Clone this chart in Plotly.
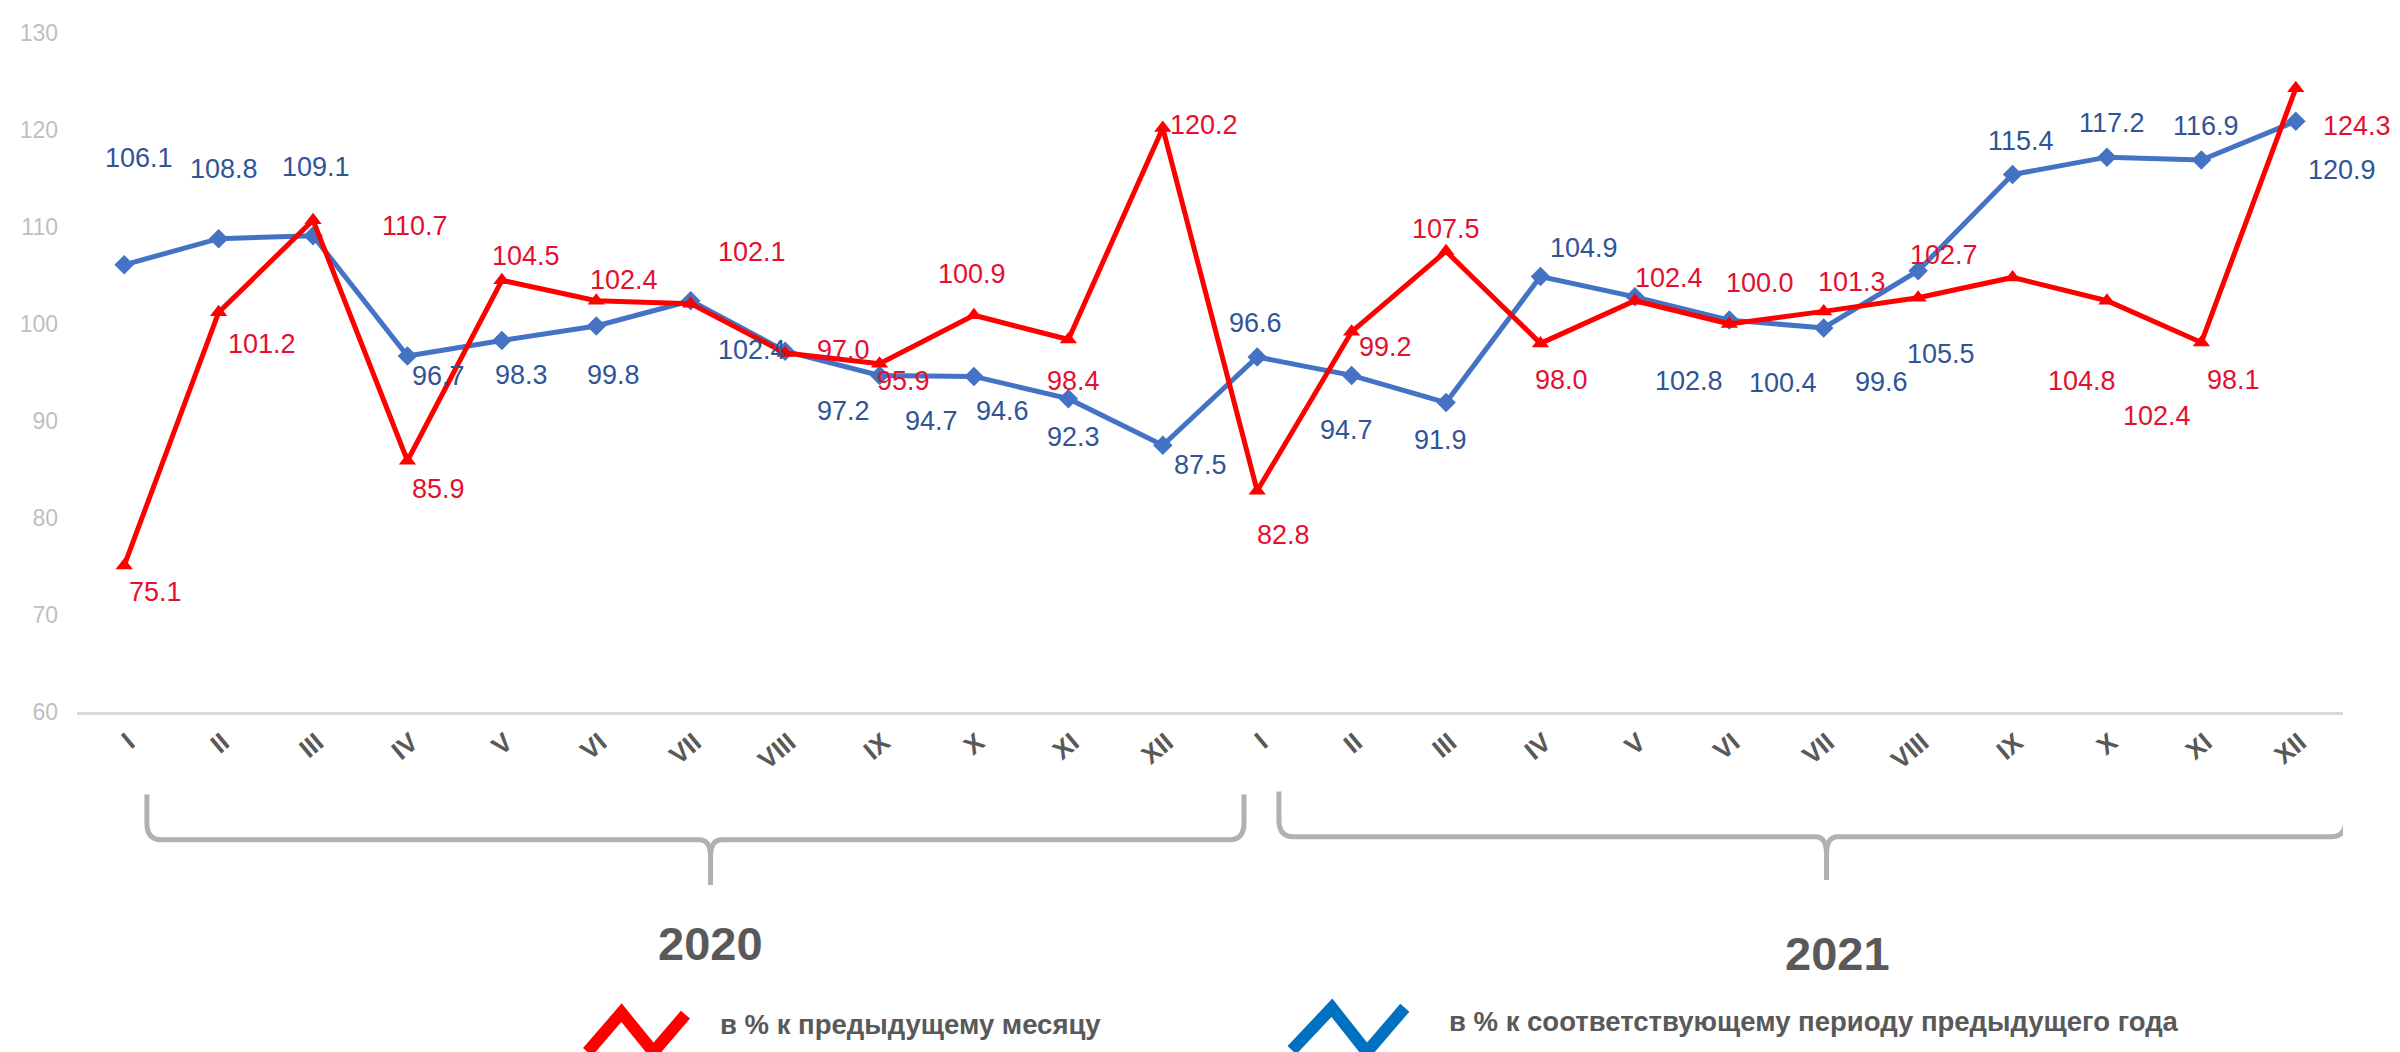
import plotly.graph_objects as go

# ---------------- data ----------------
months = ["I", "II", "III", "IV", "V", "VI", "VII", "VIII", "IX", "X", "XI", "XII"]
tick_labels = months + months
years = ["2020", "2021"]

prev_month = [75.1, 101.2, 110.7, 85.9, 104.5, 102.4, 102.1, 97.0, 95.9, 100.9, 98.4, 120.2,
              82.8, 99.2, 107.5, 98.0, 102.4, 100.0, 101.3, 102.7, 104.8, 102.4, 98.1, 124.3]
prev_year = [106.1, 108.8, 109.1, 96.7, 98.3, 99.8, 102.4, 97.2, 94.7, 94.6, 92.3, 87.5,
             96.6, 94.7, 91.9, 104.9, 102.8, 100.4, 99.6, 105.5, 115.4, 117.2, 116.9, 120.9]

legend_names = ["в % к предыдущему месяцу", "в % к соответствующему периоду предыдущего года"]

# label offsets (pixels) – styling only
red_off = [(31, -26), (43, -32), (102, -6), (31, -28), (24, 24), (28, 21), (61, 52), (58, 3),
           (24, -17), (-2, 41), (5, -41), (41, 3), (26, -44), (34, -15), (0, 22), (21, -37),
           (34, 23), (31, 41), (28, 29), (26, 43), (69, -104), (50, -115), (32, -38), (61, -38)]
blue_off = [(15, 107), (5, 70), (3, 69), (31, -20), (20, -35), (17, -49), (61, -49), (58, -60),
            (52, -46), (29, -35), (5, -38), (38, -20), (-2, 34), (-5, -55), (-6, -37), (44, 28),
            (54, -84), (54, -63), (58, -54), (23, -83), (8, 34), (5, 34), (5, 34), (46, -49)]

RED_LINE = "#ff0000"
RED_TXT = "#e3112f"
BLUE_LINE = "#4472c4"
BLUE_TXT = "#2f5597"
GREY_TXT = "#595959"
FONT = "Liberation Sans, Arial, sans-serif"

W, H = 2400, 1052
ML, MR, MT, MB = 67, 65, 13, 348
PW, PH = W - ML - MR, H - MT - MB
PB = H - MB

x = list(range(len(tick_labels)))

fig = go.Figure()
fig.add_trace(go.Scatter(
    x=x, y=prev_year, mode="lines+markers", name=legend_names[1],
    line=dict(color=BLUE_LINE, width=5),
    marker=dict(symbol="diamond", size=15, color=BLUE_LINE),
    hoverinfo="skip", cliponaxis=False))
fig.add_trace(go.Scatter(
    x=x, y=prev_month, mode="lines+markers", name=legend_names[0],
    line=dict(color=RED_LINE, width=5),
    marker=dict(symbol="triangle-up", size=15, color=RED_LINE),
    hoverinfo="skip", cliponaxis=False))

annotations = []
for xi, v, (dx, dy) in zip(x, prev_month, red_off):
    annotations.append(dict(x=xi, y=v, xref="x", yref="y", text=f"{v:.1f}", showarrow=False,
                            xshift=dx, yshift=dy, xanchor="center", yanchor="middle",
                            font=dict(family=FONT, size=27, color=RED_TXT)))
for xi, v, (dx, dy) in zip(x, prev_year, blue_off):
    annotations.append(dict(x=xi, y=v, xref="x", yref="y", text=f"{v:.1f}", showarrow=False,
                            xshift=dx, yshift=dy, xanchor="center", yanchor="middle",
                            font=dict(family=FONT, size=27, color=BLUE_TXT)))


def px2paper(px, py):
    return ((px - ML) / PW, (PB - py) / PH)


def py2paper(py):
    return (PB - py) / PH


# year labels
year_pos = [(6.21, 940), (18.15, 950)]
for yr, (xd, py) in zip(years, year_pos):
    annotations.append(dict(x=xd, y=py2paper(py), xref="x", yref="paper", text=f"<b>{yr}</b>",
                            showarrow=False, xanchor="center", yanchor="middle",
                            font=dict(family=FONT, size=47, color=GREY_TXT)))

# legend texts
for name, (px, py) in zip(legend_names, [(709, 1022), (1438, 1019)]):
    lx, ly = px2paper(px, py)
    annotations.append(dict(x=lx, y=ly, xref="paper", yref="paper",
                            text=f"<b>{name}</b>", showarrow=False, xanchor="left",
                            yanchor="middle", font=dict(family=FONT, size=27.5, color=GREY_TXT)))

shapes = []


def brace(x0, x1, xc, ytop, yh, ytip, rx=0.15, ry=0.025, cx=0.12):
    return (f"M {x0},{ytop} L {x0},{yh + ry} Q {x0},{yh} {x0 + rx},{yh} "
            f"L {xc - cx},{yh} Q {xc},{yh} {xc},{yh - ry} L {xc},{ytip} "
            f"L {xc},{yh - ry} Q {xc},{yh} {xc + cx},{yh} "
            f"L {x1 - rx},{yh} Q {x1},{yh} {x1},{yh + ry} L {x1},{ytop}")


for (x0, x1, xc, ytop, yh, ytip) in [(0.24, 11.86, 6.21, 788, 834, 880),
                                      (12.23, 23.53, 18.03, 785, 831, 875)]:
    shapes.append(dict(type="path", xref="x", yref="paper",
                       path=brace(x0, x1, xc, py2paper(ytop), py2paper(yh), py2paper(ytip)),
                       line=dict(color="#b4b0b0", width=5)))


def zig(points):
    pts = [px2paper(a, b) for a, b in points]
    return "M " + " L ".join(f"{a},{b}" for a, b in pts)


shapes.append(dict(type="path", xref="paper", yref="paper",
                   path=zig([(578, 1050), (612, 1010), (644, 1050), (676, 1012)]),
                   line=dict(color=RED_LINE, width=12)))
shapes.append(dict(type="path", xref="paper", yref="paper",
                   path=zig([(1283, 1048), (1323, 1005), (1358, 1050), (1396, 1005)]),
                   line=dict(color="#0070c0", width=12)))
# thin golden line at right edge
gx0, gy0 = px2paper(2397, 918)
gx1, gy1 = px2paper(2397, 1040)
shapes.append(dict(type="line", xref="paper", yref="paper", x0=gx0, x1=gx1, y0=gy0, y1=gy1,
                   line=dict(color="#e2b85e", width=2)))

fig.update_layout(
    width=W, height=H,
    margin=dict(l=ML, r=MR, t=MT, b=MB),
    paper_bgcolor="white", plot_bgcolor="white",
    showlegend=False,
    annotations=annotations, shapes=shapes,
    xaxis=dict(range=[-0.5, 23.5], tickmode="array", tickvals=x,
               ticktext=[f"<b>{t}</b>" for t in tick_labels], tickangle=-40,
               tickfont=dict(family=FONT, size=26, color=GREY_TXT),
               showgrid=False, zeroline=False, showline=True, linecolor="#d9d9d9", linewidth=3,
               ticks="", ticklabelstandoff=2, ticklabelshift=4),
    yaxis=dict(range=[60, 130], dtick=10, showgrid=False, zeroline=False, showline=False,
               tickfont=dict(family=FONT, size=23, color="#bfbfbf"), ticks="",
               ticklabelstandoff=18),
)

fig.write_html("out.html")
